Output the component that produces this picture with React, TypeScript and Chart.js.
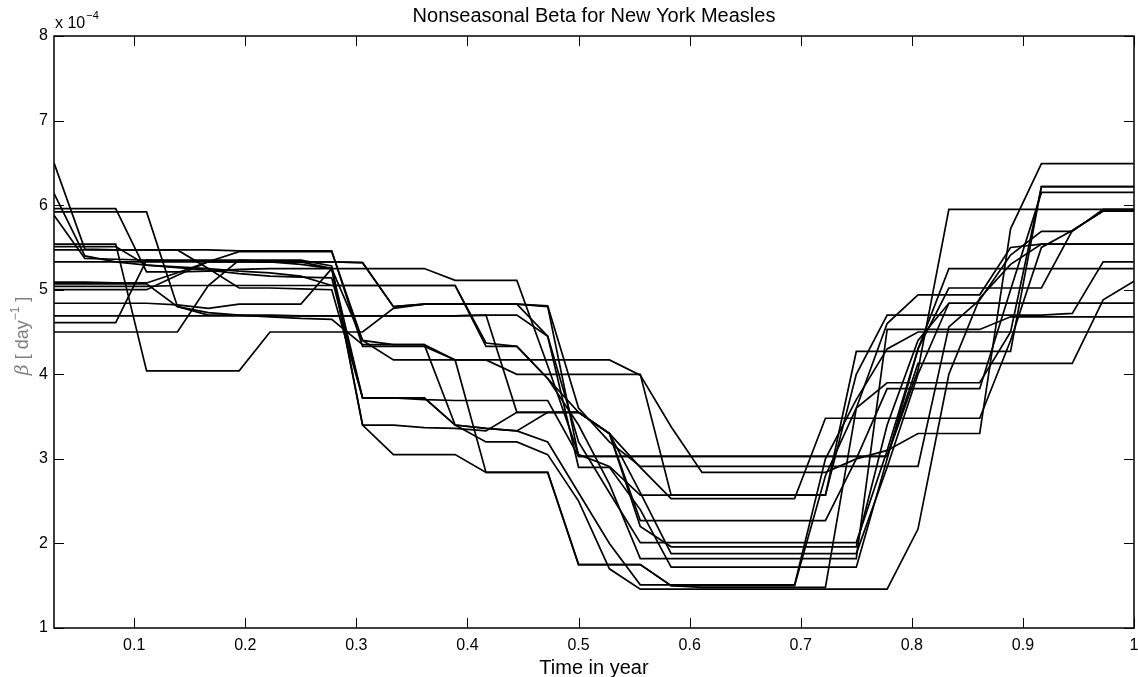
import { useEffect, useRef } from "react";
import { Chart, registerables } from "chart.js";

Chart.register(...registerables);

// time grid: week index k = 1..36, time = k/36 of a year
const steps = [1,2,3,4,5,6,7,8,9,10,11,12,13,14,15,16,17,18,19,20,21,22,23,24,25,26,27,28,29,30,31,32,33,34,35,36];
const xTicks = [0.1, 0.2, 0.3, 0.4, 0.5, 0.6, 0.7, 0.8, 0.9, 1];
const yTicks = [1, 2, 3, 4, 5, 6, 7, 8];

// beta values (x 1e-4)
const run01 = [6.50,5.48,5.47,5.47,5.47,5.47,5.46,5.46,5.46, 5.46,4.33,4.33,4.33,4.17,4.17,4.17,4.17, 4.17,4.17,3.99,3.38,2.84,2.84,2.84,2.84, 2.84,3.00,3.10,3.30,3.30,3.30,5.72,6.49,6.49,6.49,6.49];
const run02 = [6.14,5.40,5.33,5.29,5.26,5.23,5.19,5.16,5.15, 5.14,3.72,3.72,3.70,3.69,3.69,3.69,3.69, 3.03,3.03,3.03,3.03,3.03,3.03,3.03,3.03, 3.03,3.03,3.03,4.13,4.13,4.13,4.13,4.13,4.13,4.88,5.10];
const run03 = [5.88,5.37,5.36,5.35,5.34,5.34,5.34,5.33,5.33, 5.33,5.32,4.80,4.83,4.83,4.83,4.83,4.81, 3.60,3.20,2.91,2.91,2.91,2.91,2.91,2.91, 2.91,2.91,2.91,2.91,4.56,4.88,5.41,5.69,5.69,5.95,5.95];
const run04 = [5.96,5.96,5.96,5.21,5.21,5.22,5.24,5.25,5.25, 5.25,5.25,5.25,5.25,5.11,5.11,5.11,4.10, 3.05,2.91,2.57,2.57,2.57,2.57,2.57,2.57, 2.57,4.27,4.27,4.27,4.27,4.27,4.27,6.22,6.22,6.22,6.22];
const run05 = [5.92,5.92,5.92,5.92,4.80,4.70,4.70,4.70,4.69, 4.69,4.69,4.69,4.69,4.69,4.70,3.55,3.55, 3.55,3.30,2.27,2.27,2.27,2.27,2.27,2.27, 2.27,3.00,3.83,3.83,3.83,3.83,5.00,6.15,6.15,6.15,6.15];
const run06 = [5.54,5.54,5.54,4.04,4.04,4.04,4.04,4.50,4.50, 4.50,4.50,4.78,4.83,4.83,4.83,4.83,4.45, 3.20,2.60,2.01,2.01,2.01,2.01,2.01,2.01, 2.01,2.01,3.10,4.30,5.25,5.25,5.25,5.25,5.25,5.25,5.25];
const run07 = [5.51,5.51,5.51,5.29,5.27,5.25,5.22,5.20,5.16, 5.05,5.05,5.05,5.05,5.05,4.33,4.33,3.95, 3.55,3.30,2.90,2.53,2.53,2.53,2.53,2.53, 3.48,3.48,3.48,3.48,3.48,3.48,4.40,5.50,5.70,5.93,5.93];
const run08 = [5.47,5.47,5.47,5.47,5.47,5.25,5.02,5.02,5.01, 5.00,3.72,3.72,3.72,3.40,3.36,3.33,3.55, 3.55,3.30,2.60,1.88,1.88,1.88,1.88,1.88, 1.88,1.88,2.90,4.00,4.84,4.84,4.84,4.84,4.84,4.84,4.84];
const run09 = [5.33,5.33,5.33,5.33,5.33,5.33,5.33,5.33,5.33, 5.33,5.32,4.80,4.83,4.83,4.83,4.83,4.80, 3.03,3.03,3.03,3.03,3.03,3.03,3.03,3.03, 3.03,3.03,3.03,4.05,5.95,5.95,5.95,5.95,5.95,5.95,5.95];
const run10 = [5.09,5.09,5.08,5.08,5.20,5.33,5.45,5.45,5.45, 5.45,4.40,4.35,4.35,4.17,4.17,4.00,4.00, 4.00,4.00,4.00,2.57,2.57,2.57,2.57,2.57, 2.57,4.00,4.70,4.70,4.70,4.70,4.70,4.70,4.72,5.33,5.33];
const run11 = [5.07,5.07,5.07,5.07,4.80,4.73,4.70,4.68,4.66, 4.65,4.35,4.35,4.35,3.40,3.36,3.33,3.20, 2.60,2.00,1.51,1.51,1.51,1.51,1.51,1.51, 3.00,3.70,4.30,4.50,4.50,4.50,4.50,4.50,4.50,4.50,4.50];
const run12 = [5.04,5.04,5.04,5.04,5.05,5.05,5.05,5.05,5.05, 5.05,5.05,5.05,5.05,5.05,4.37,4.33,3.95, 3.40,2.70,1.82,1.82,1.82,1.82,1.82,1.82, 1.82,1.82,4.53,4.53,4.53,4.53,4.68,4.68,4.68,4.68,4.68];
const run13 = [5.00,5.00,5.00,5.00,5.17,5.33,5.33,5.33,5.33, 5.25,3.40,3.40,3.37,3.36,3.33,3.55,3.55, 3.55,3.30,2.20,1.96,1.96,1.96,1.96,1.96, 1.96,1.96,3.40,4.40,4.84,4.84,4.84,4.84,4.84,4.84,4.84];
const run14 = [4.84,4.84,4.84,4.84,4.82,4.78,4.83,4.83,4.83, 5.25,4.40,4.17,4.17,4.17,2.84,2.84,2.84, 1.75,1.75,1.75,1.50,1.48,1.48,1.48,1.48, 1.48,3.60,4.60,4.94,4.94,4.94,5.50,5.54,5.54,5.54,5.54];
const run15 = [4.69,4.69,4.69,4.69,4.69,4.69,4.69,4.69,4.69, 4.69,4.69,4.69,4.69,4.69,4.70,4.70,4.45, 2.90,2.90,2.40,1.72,1.72,1.72,1.72,1.72, 1.72,1.72,3.00,4.30,5.02,5.02,5.02,5.02,5.70,5.93,5.93];
const run16 = [4.61,4.61,4.61,5.35,5.35,5.35,5.35,5.33,5.30, 5.25,3.72,3.72,3.72,3.40,3.20,3.20,3.05, 2.50,1.70,1.46,1.46,1.46,1.46,1.46,1.46, 1.46,1.46,1.46,2.17,4.00,4.90,5.30,5.54,5.54,5.54,5.54];
const run17 = [4.50,4.50,4.50,4.50,4.50,5.05,5.35,5.35,5.35, 5.28,3.40,3.05,3.05,3.05,2.84,2.84,2.84, 1.75,1.75,1.75,1.50,1.50,1.50,1.50,1.50, 2.80,3.60,3.90,3.90,3.90,3.90,4.50,6.22,6.22,6.22,6.22];

const runs = [run01, run02, run03, run04, run05, run06, run07, run08, run09, run10, run11, run12, run13, run14, run15, run16, run17];

const FONT = '"Liberation Sans", Arial, Helvetica, sans-serif';

const decorPlugin = {
  id: "decor",
  afterDraw(chart: any) {
    const { ctx, chartArea, scales } = chart;
    const { left, right, top, bottom } = chartArea;
    const x = scales.x;
    const y = scales.y;
    ctx.save();
    ctx.strokeStyle = "#000";
    ctx.lineWidth = 1.5;
    ctx.beginPath();
    ctx.rect(left, top, right - left, bottom - top);
    ctx.stroke();
    ctx.lineWidth = 1;
    const tl = 10;
    ctx.beginPath();
    xTicks.forEach((v) => {
      const px = Math.round(x.getPixelForValue(v)) + 0.5;
      ctx.moveTo(px, bottom);
      ctx.lineTo(px, bottom - tl);
      ctx.moveTo(px, top);
      ctx.lineTo(px, top + tl);
    });
    yTicks.forEach((v) => {
      const py = Math.round(y.getPixelForValue(v)) + 0.5;
      ctx.moveTo(left, py);
      ctx.lineTo(left + tl, py);
      ctx.moveTo(right, py);
      ctx.lineTo(right - tl, py);
    });
    ctx.stroke();

    ctx.fillStyle = "#000";
    ctx.textAlign = "center";
    ctx.textBaseline = "alphabetic";
    ctx.font = `20px ${FONT}`;
    ctx.fillText("Nonseasonal Beta for New York Measles", (left + right) / 2, 22);
    ctx.font = `20px ${FONT}`;
    ctx.fillText("Time in year", (left + right) / 2, 674);

    // exponent label
    ctx.textAlign = "left";
    ctx.font = `16px ${FONT}`;
    ctx.fillText("x 10", 55, 28);
    const w10 = ctx.measureText("x 10").width;
    ctx.font = `11px ${FONT}`;
    ctx.fillText("\u22124", 55 + w10 + 1, 19);

    // y axis label
    ctx.save();
    ctx.translate(28, 336);
    ctx.rotate(-Math.PI / 2);
    ctx.fillStyle = "#808080";
    const parts: [string, string, number][] = [
      ["\u03B2", `italic 19px "DejaVu Serif", serif`, 0],
      [" [ day", `18px ${FONT}`, 0],
      ["\u22121", `12px ${FONT}`, -9],
      [" ]", `18px ${FONT}`, 0],
    ];
    let total = 0;
    parts.forEach(([t, f]) => { ctx.font = f; total += ctx.measureText(t).width; });
    let cx = -total / 2;
    parts.forEach(([t, f, dy]) => {
      ctx.font = f;
      ctx.fillText(t, cx, dy);
      cx += ctx.measureText(t).width;
    });
    ctx.restore();
    ctx.restore();
  },
};

export default function App() {
  const ref = useRef<HTMLCanvasElement | null>(null);
  useEffect(() => {
    if (!ref.current) return;
    const datasets = runs.map((r, i) => ({
      label: `run ${i + 1}`,
      data: steps.map((k, j) => ({ x: k / 36, y: r[j] })),
      borderColor: "#000",
      borderWidth: 1.7,
      pointRadius: 0,
      fill: false,
      tension: 0,
    }));
    const chart = new Chart(ref.current, {
      type: "line",
      data: { datasets },
      plugins: [decorPlugin],
      options: {
        animation: false,
        responsive: false,
        maintainAspectRatio: false,
        events: [],
        layout: { padding: { top: 36, right: 4, left: 0, bottom: 0 } },
        plugins: { legend: { display: false }, tooltip: { enabled: false }, title: { display: false } },
        scales: {
          x: {
            type: "linear",
            min: 1 / 36,
            max: 1,
            afterBuildTicks: (s: any) => { s.ticks = xTicks.map((v) => ({ value: v })); },
            afterFit: (s: any) => { s.height = 49; s.paddingLeft = 0; s.paddingRight = 0; },
            grid: { display: false, drawTicks: false },
            border: { display: false },
            ticks: {
              autoSkip: false,
              maxRotation: 0,
              padding: 8,
              color: "#000",
              font: { family: FONT, size: 16 },
              callback: (v: any) => String(Number(v)),
            },
          },
          y: {
            type: "linear",
            min: 1,
            max: 8,
            afterBuildTicks: (s: any) => { s.ticks = yTicks.map((v) => ({ value: v })); },
            afterFit: (s: any) => { s.width = 54; s.paddingTop = 0; s.paddingBottom = 0; },
            grid: { display: false, drawTicks: false },
            border: { display: false },
            ticks: {
              padding: 6,
              color: "#000",
              font: { family: FONT, size: 16 },
              callback: (v: any) => String(Number(v)),
            },
          },
        },
      },
    });
    return () => chart.destroy();
  }, []);
  return (
    <div style={{ position: "fixed", left: 0, top: 0, width: 1138, height: 677, background: "#fff" }}>
      <canvas ref={ref} width={1138} height={677} style={{ width: 1138, height: 677, display: "block" }} />
    </div>
  );
}
